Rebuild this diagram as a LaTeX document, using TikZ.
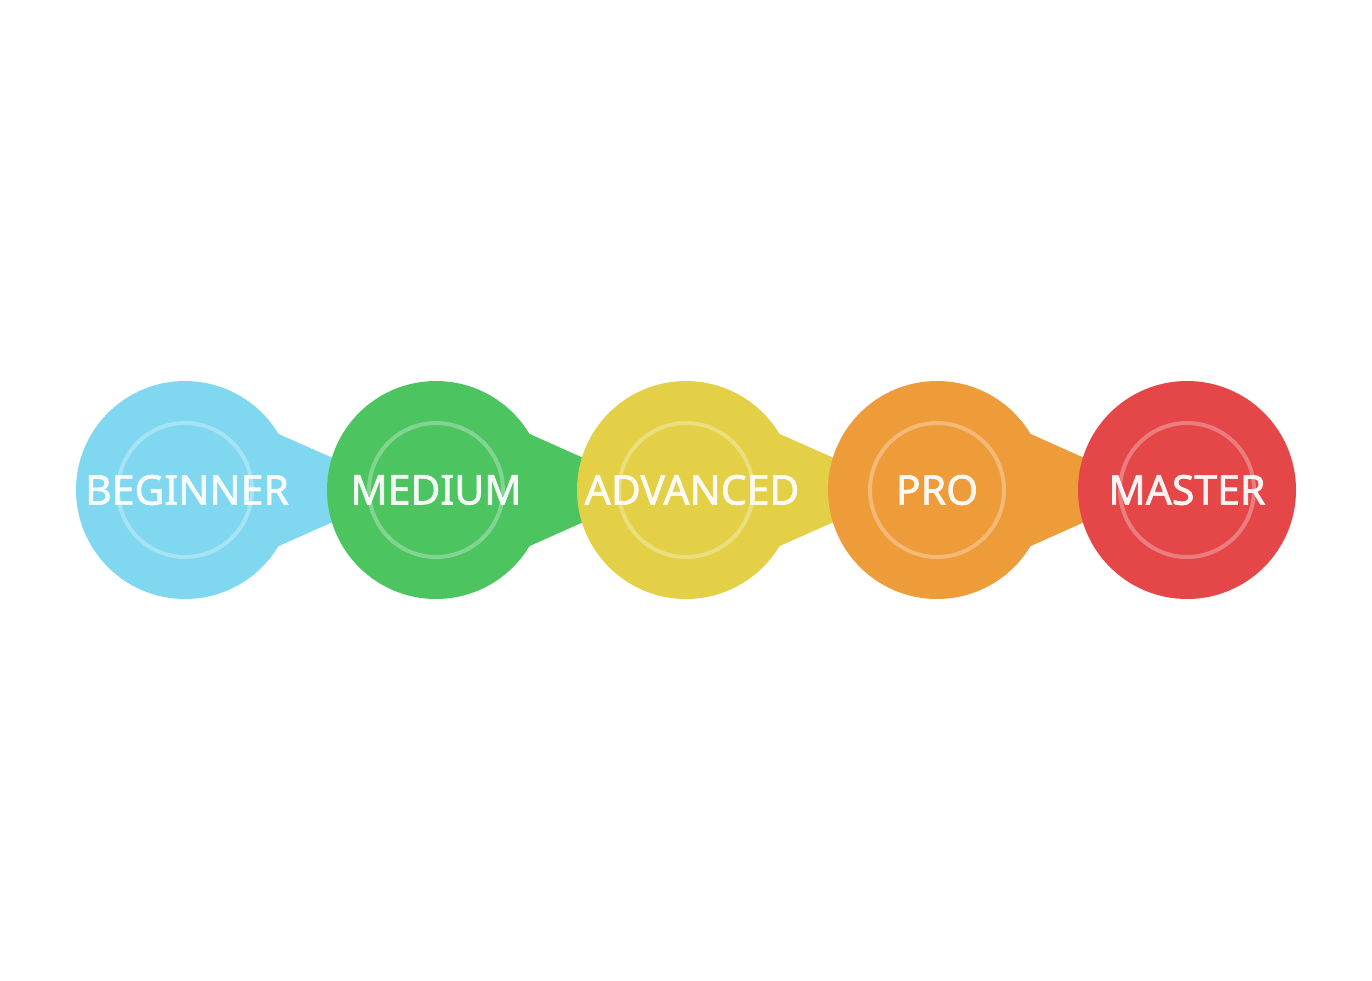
\documentclass[tikz,border=0pt]{standalone}
\usepackage{fontspec}
\setmainfont{Noto Sans}
\newfontfamily\lvlfont[FakeBold=1.6]{Noto Sans}
\usetikzlibrary{calc,backgrounds}
\definecolor{cBlue}{RGB}{128,216,240}
\definecolor{cGreen}{RGB}{76,196,96}
\definecolor{cYellow}{RGB}{227,208,70}
\definecolor{cOrange}{RGB}{238,155,58}
\definecolor{cRed}{RGB}{229,70,71}
\tikzset{
  disc/.style={circle, minimum size=218pt, inner sep=0pt, fill=#1},
  ring/.style={circle, minimum size=134pt, inner sep=0pt, draw=white, draw opacity=0.3, line width=4pt},
  lvl/.style={text=white, text opacity=0.93, font=\lvlfont\fontsize{41}{41}\selectfont, inner sep=0pt},
}
\begin{document}
\begin{tikzpicture}[x=1pt,y=-1pt]
\useasboundingbox (0,0) rectangle (1372,980);
\foreach \i/\cx/\col/\txt/\dx in {1/185/cBlue/BEGINNER/2, 2/436/cGreen/MEDIUM/0, 3/686/cYellow/ADVANCED/6, 4/937/cOrange/PRO/0, 5/1187/cRed/MASTER/0}{
  \node[disc=\col] (c\i) at (\cx,490) {};
  \node[ring] (r\i) at (c\i.center) {};
  \node[lvl] (t\i) at ($(c\i.center)+(\dx,0)$) {\txt};
}
\begin{scope}[on background layer]
\fill[white] (0,0) rectangle (1372,980);
\foreach \p/\q/\col in {1/2/cBlue, 2/3/cGreen, 3/4/cYellow, 4/5/cOrange}{
  \fill[fill=\col] ($(c\p.center)+(31:109)$) -- ($(c\q.center)+(-31,0)$) -- ($(c\p.center)+(-31:109)$) -- cycle;
}
\end{scope}
\end{tikzpicture}
\end{document}
